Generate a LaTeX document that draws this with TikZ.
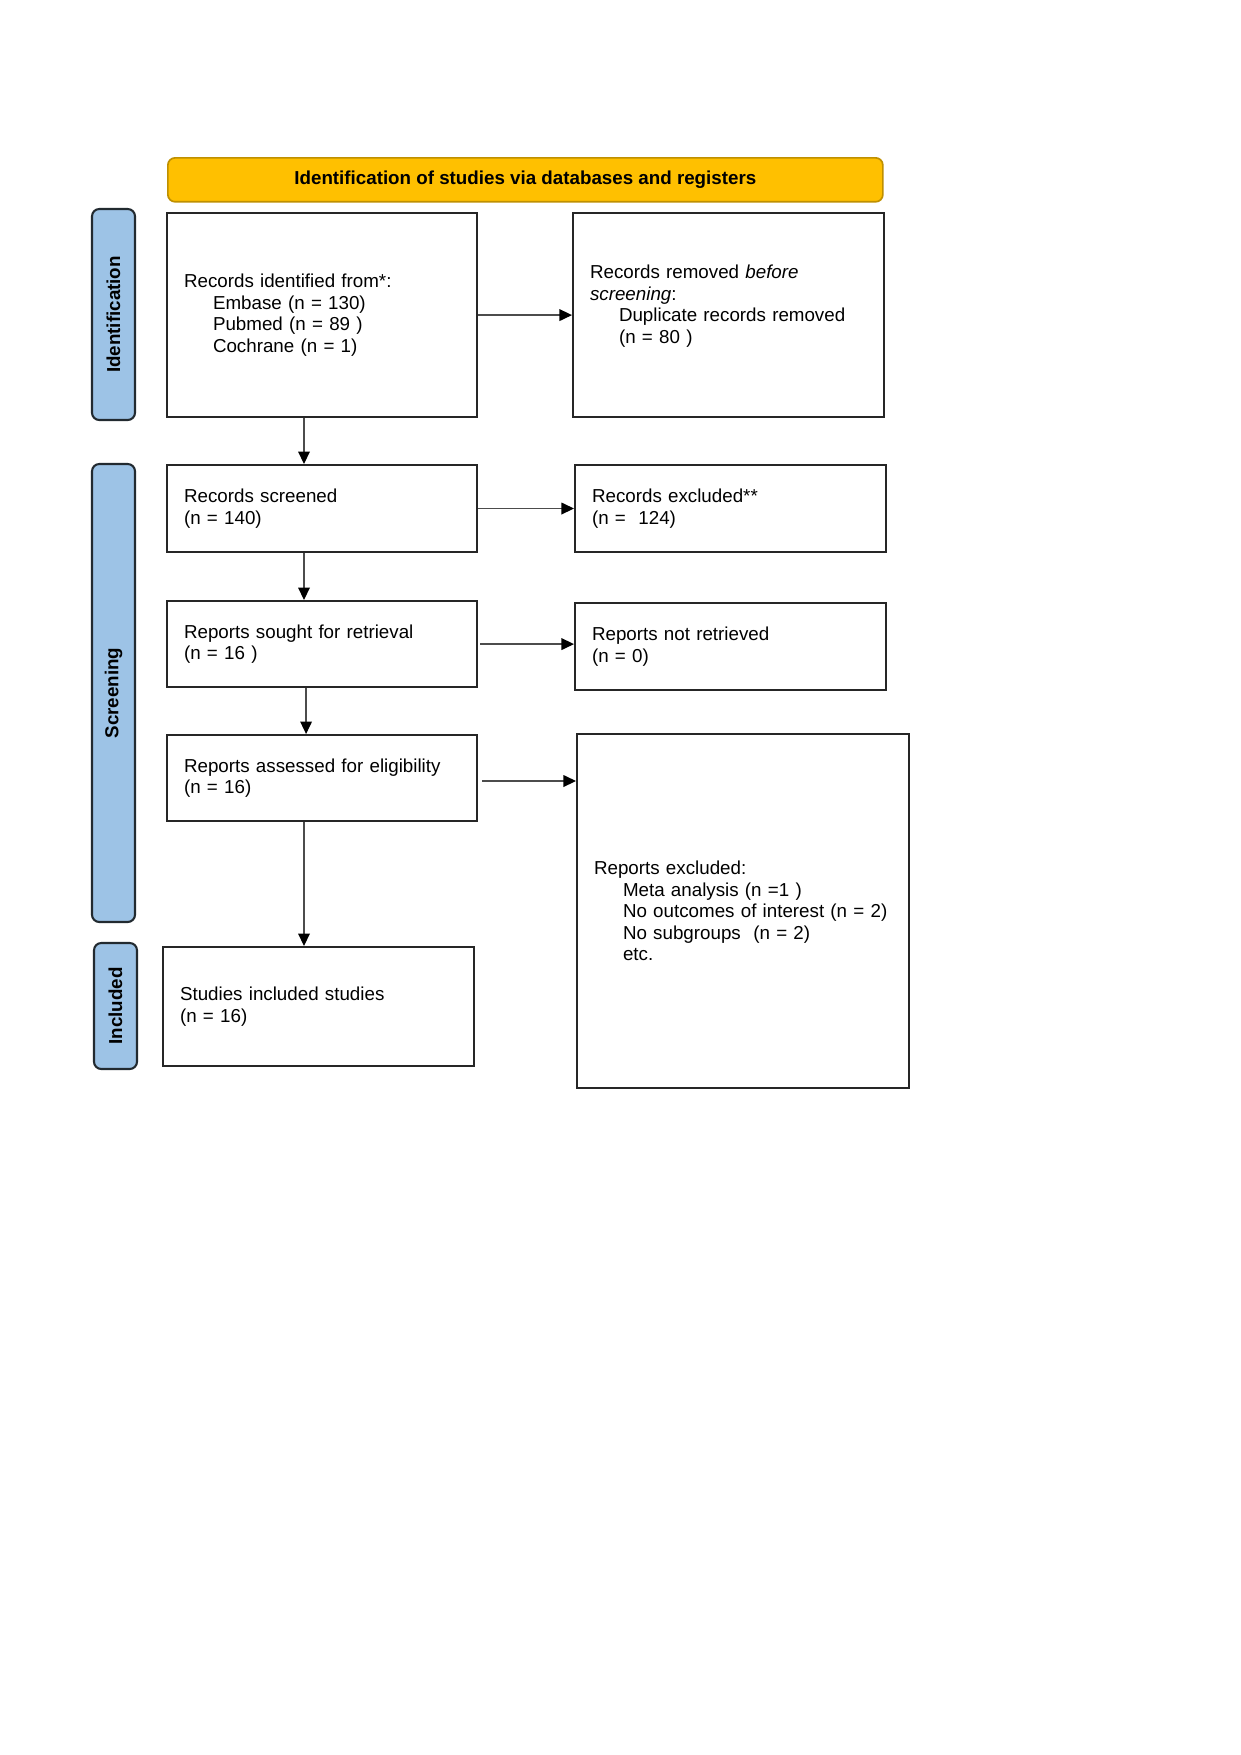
\documentclass[tikz,border=0pt]{standalone}
\usepackage{fontspec}
\setmainfont{Liberation Sans}
\usetikzlibrary{arrows.meta,fit,calc}
\definecolor{titlefill}{HTML}{FFC000}
\definecolor{titledraw}{HTML}{BF9000}
\definecolor{sidefill}{HTML}{9DC3E6}
\definecolor{sidedraw}{HTML}{222A30}
\newcommand\bodyfont{\fontsize{9}{10.35}\selectfont}
\newcommand\ind{\hspace*{13.9pt}}
\begin{document}
\begin{tikzpicture}[x=0.4797pt,y=-0.4797pt,
 box/.style={draw=black!85,line width=1pt,inner xsep=8.15pt,inner ysep=2pt,align=left,anchor=north west,font=\bodyfont},
 sidebar/.style={draw=sidedraw,fill=sidefill,line width=1pt,rounded corners=3.5pt,inner sep=0pt},
 sidetext/.style={rotate=90,font=\bodyfont\bfseries},
 titlebox/.style={draw=titledraw,fill=titlefill,line width=0.8pt,rounded corners=3.5pt,inner sep=0pt,anchor=north west,font=\bodyfont\bfseries},
 conn/.style={draw=black!70,line width=0.6pt,-{Triangle[length=6pt,width=5.6pt,color=black]}}
]
\fill[white] (0,0) rectangle (1241,1755);
\useasboundingbox (0,0) rectangle (1241,1755);

\node[titlebox, minimum width=343pt, minimum height=21.1pt] (title) at (167,157) {Identification of studies via databases and registers};

\node[sidebar, fit={(92,209)(135,420)}] (s1) {};
\node[sidetext] (s1t) at (s1) {Identification};
\node[sidebar, fit={(92,464)(135,922)}] (s2) {};
\node[sidetext] (s2t) at (s2) {Screening};
\node[sidebar, fit={(94,943)(137,1069)}] (s3) {};
\node[sidetext] (s3t) at (s3) {Included};

\node[box, text width=132.4pt, minimum height=97.9pt] (b1) at (166,212) {Records identified from*:\\ \ind Embase (n = 130)\\ \ind Pubmed (n = 89 )\\ \ind Cochrane (n = 1)};
\node[box, text width=132.9pt, minimum height=97.9pt] (b2) at (572,212) {Records removed \textit{before}\\ \textit{screening}:\\ \ind Duplicate records removed\\ \ind (n = 80 )\\ \mbox{}};
\node[box, text width=132.4pt, minimum height=41.7pt] (b3) at (166,464) {Records screened\\ (n = 140)};
\node[box, text width=132.4pt, minimum height=41.3pt] (b4) at (166,600) {Reports sought for retrieval\\ (n = 16 )};
\node[box, text width=132.4pt, minimum height=41.3pt] (b5) at (166,734) {Reports assessed for eligibility\\ (n = 16)};
\node[box, text width=132.9pt, minimum height=41.7pt] (b6) at (574,464) {Records excluded**\\ (n =\ \ 124)};
\node[box, text width=132.9pt, minimum height=41.7pt] (b7) at (574,602) {Reports not retrieved\\ (n = 0)};
\node[box, text width=143pt, minimum height=169.8pt] (b8) at (576,733) {Reports excluded:\\ \ind Meta analysis (n =1 )\\ \ind No outcomes of interest (n = 2)\\ \ind No subgroups\ \ (n = 2)\\ \ind etc.};
\node[box, text width=132.9pt, minimum height=57.1pt] (b9) at (162,946) {Studies included studies\\ (n = 16)};

\draw[conn] (b1) -- (b2);
\draw[conn] ([xshift=66.2pt]b1.south west) -- ([xshift=66.2pt]b1.south west |- b3.north);
\draw[conn] (b3) -- (b6);
\draw[conn] ([xshift=66.2pt]b3.south west) -- ([xshift=66.2pt]b3.south west |- b4.north);
\draw[conn, shorten <=1pt] (b4.east) -- (b4.east -| b7.west);
\draw[conn] ([xshift=67.2pt]b4.south west) -- ([xshift=67.2pt]b4.south west |- b5.north);
\draw[conn, shorten <=2pt] ([yshift=-1.4pt]b5.east) -- ([yshift=-1.4pt]b5.east -| b8.west);
\draw[conn] ([xshift=66.2pt]b5.south west) -- ([xshift=66.2pt]b5.south west |- b9.north);
\end{tikzpicture}
\end{document}
